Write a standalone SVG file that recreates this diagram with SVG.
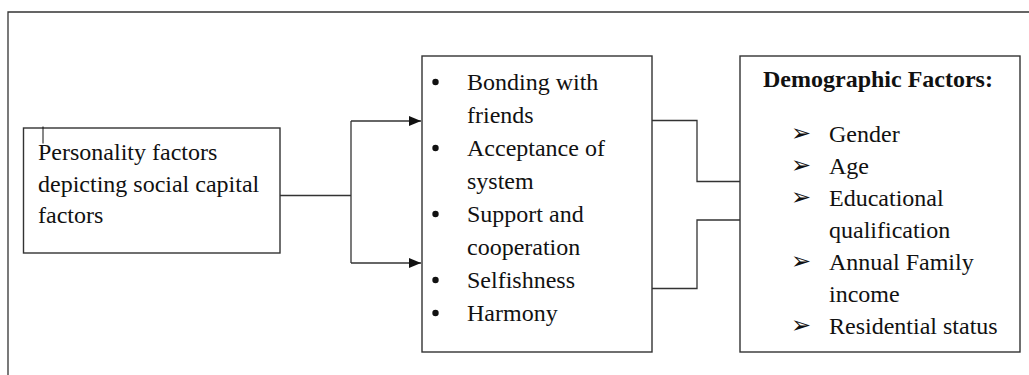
<svg xmlns="http://www.w3.org/2000/svg" width="1029" height="375" viewBox="0 0 1029 375">
<style>
.box{fill:#fff;stroke:#333;stroke-width:1.4}
.ln{fill:none;stroke:#333;stroke-width:1.3}
.t{font-family:'Liberation Serif',Tinos,'Times New Roman','DejaVu Serif',serif;font-size:24px;fill:#111}
.b{font-weight:bold}
.ar{font-family:'DejaVu Sans',sans-serif;font-size:24px;fill:#111}
</style>
<defs>
<marker id="ah" markerWidth="12" markerHeight="10" refX="12" refY="5" orient="auto" markerUnits="userSpaceOnUse">
<path d="M0,0 L12,5 L0,10 Z" fill="#111"/>
</marker>
</defs>
<rect width="1029" height="375" fill="#fff"/>
<g id="frame">
<path class="ln" d="M8,375 V12 H1029"/>
</g>
<g id="connectors">
<path class="ln" d="M280,195.5 H351"/>
<path class="ln" d="M351,121 V263"/>
<path class="ln" d="M351,121 H421" marker-end="url(#ah)"/>
<path class="ln" d="M351,263 H421" marker-end="url(#ah)"/>
<path class="ln" d="M652,120.5 H697 V181.5 H740"/>
<path class="ln" d="M652,288.5 H697 V220 H740"/>
</g>
<g id="node-personality">
<rect class="box" x="23.5" y="128" width="256.5" height="125"/>
<line x1="43" y1="126.5" x2="43" y2="143.5" stroke="#111" stroke-width="1"/>
<text class="t" x="38" y="159.5">Personality factors</text>
<text class="t" x="38" y="191.5">depicting social capital</text>
<text class="t" x="38" y="223">factors</text>
</g>
<g id="node-social">
<rect class="box" x="422" y="56" width="230" height="296"/>
<circle cx="435.5" cy="82" r="3.2" fill="#111"/>
<circle cx="435.5" cy="148" r="3.2" fill="#111"/>
<circle cx="435.5" cy="214" r="3.2" fill="#111"/>
<circle cx="435.5" cy="280" r="3.2" fill="#111"/>
<circle cx="435.5" cy="313" r="3.2" fill="#111"/>
<text class="t" x="467" y="90">Bonding with</text>
<text class="t" x="467" y="123">friends</text>
<text class="t" x="467" y="156">Acceptance of</text>
<text class="t" x="467" y="189">system</text>
<text class="t" x="467" y="222">Support and</text>
<text class="t" x="467" y="255">cooperation</text>
<text class="t" x="467" y="288">Selfishness</text>
<text class="t" x="467" y="321">Harmony</text>
</g>
<g id="node-demographic">
<rect class="box" x="740" y="56" width="280" height="296"/>
<text class="t b" x="763" y="87">Demographic Factors:</text>
<text class="ar" x="791" y="141">➢</text>
<text class="ar" x="791" y="173">➢</text>
<text class="ar" x="791" y="205">➢</text>
<text class="ar" x="791" y="269">➢</text>
<text class="ar" x="791" y="333">➢</text>
<text class="t" x="829" y="141.5">Gender</text>
<text class="t" x="829" y="173.5">Age</text>
<text class="t" x="829" y="205.5">Educational</text>
<text class="t" x="829" y="237.5">qualification</text>
<text class="t" x="829" y="269.5">Annual Family</text>
<text class="t" x="829" y="301.5">income</text>
<text class="t" x="829" y="333.5">Residential status</text>
</g>
</svg>
